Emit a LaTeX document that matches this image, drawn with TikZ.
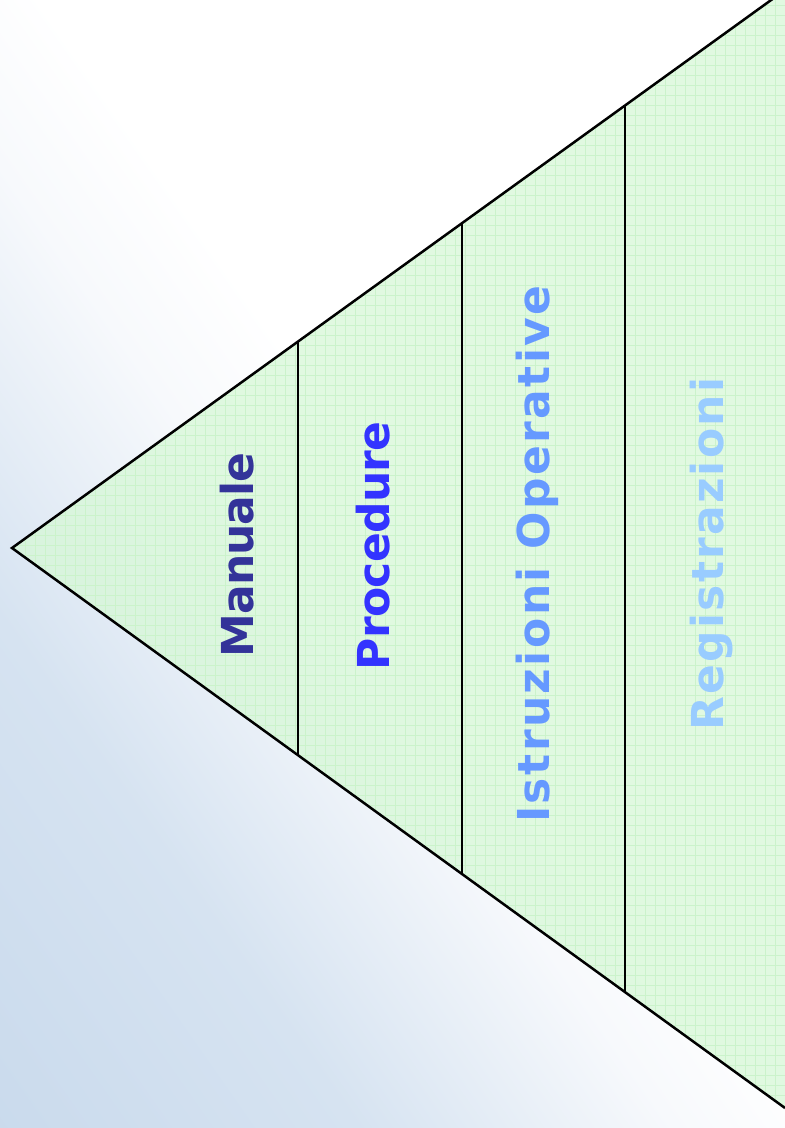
\documentclass[tikz,border=0pt]{standalone}
\usepackage{fontspec}
\setmainfont{DejaVu Sans}
\usetikzlibrary{calc}
\definecolor{bgblue}{RGB}{190,210,232}
\definecolor{bgmid}{RGB}{214,227,241}
\definecolor{bgpale}{RGB}{247,249,252}
\definecolor{leafgreen}{RGB}{215,248,215}
\definecolor{gridgreen}{RGB}{203,243,203}
\definecolor{manualecol}{RGB}{51,51,153}
\definecolor{procedurecol}{RGB}{51,51,255}
\definecolor{istruzionicol}{RGB}{102,153,255}
\definecolor{registrazionicol}{RGB}{153,204,255}
\pgfdeclareverticalshading{bgfade}{100bp}{color(0bp)=(bgblue); color(31bp)=(bgmid);
  color(45bp)=(bgpale); color(52bp)=(white); color(100bp)=(white)}
\tikzset{
  level/.style={font=\fontsize{44}{44}\selectfont\bfseries, rotate=90, inner sep=0pt},
  divider/.style={line width=2.5pt, black}
}
\begin{document}
\begin{tikzpicture}[x=1pt,y=-1pt]
\useasboundingbox (0,0) rectangle (785,1128);
\clip (0,0) rectangle (785,1128);
%BACKGROUND
\fill[shading=bgfade, shading angle=-55] (0,0) rectangle (785,1128);

%PYRAMID
\coordinate (apex) at (12,548);
\coordinate (topend) at (785,-10);
\coordinate (botend) at (785,1108);
\fill[leafgreen, opacity=.75] (apex) -- (topend) -- (botend) -- cycle;
\begin{scope}
  \clip (apex) -- (topend) -- (botend) -- cycle;
  \foreach \gx in {15,25,...,785}
    \draw[gridgreen, line width=.8pt] (\gx,0) -- (\gx,1128);
  \foreach \gy in {5,15,...,1125}
    \draw[gridgreen, line width=.8pt] (0,\gy) -- (785,\gy);
\end{scope}
\draw[line width=2.5pt, line join=miter] (topend) -- (apex) -- (botend);

% levels
\foreach \t [count=\i] in {0.370,0.582,0.793}
  \draw[divider] ($(apex)!\t!(topend)$) coordinate (up\i)
    -- ($(apex)!\t!(botend)$) coordinate (dn\i);

\node[level, text=manualecol] (manuale) at (237,555)
  {\addfontfeature{LetterSpace=-2}Manuale};
\node[level, text=procedurecol] (procedure) at (373,546)
  {\addfontfeature{LetterSpace=-1.5}Procedure};
\node[level, text=istruzionicol] (istruzioni) at (537,554)
  {\addfontfeature{LetterSpace=5.5}Istruzioni Operative};
\node[level, text=registrazionicol] (registrazioni) at (712,554)
  {\addfontfeature{LetterSpace=5}Registrazioni};
\end{tikzpicture}
\end{document}
